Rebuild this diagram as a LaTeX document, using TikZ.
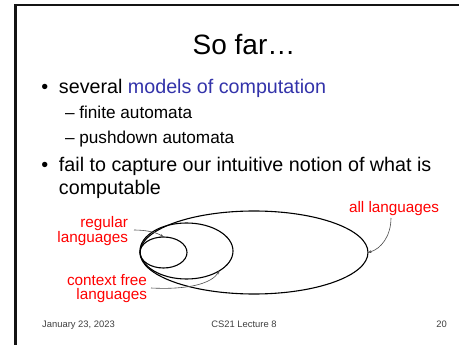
\documentclass[tikz,border=0pt]{standalone}
\usepackage{fontspec}
\setmainfont{Liberation Sans}
\usetikzlibrary{arrows.meta,shapes.geometric}
\definecolor{blu}{RGB}{51,51,170}
\definecolor{lab}{RGB}{255,0,0}
\definecolor{foot}{RGB}{64,64,64}
\definecolor{frm}{RGB}{20,20,20}
\tikzset{
  txt/.style={inner sep=0pt, outer sep=0pt, anchor=base west},
  ttl/.style={inner sep=0pt, anchor=base, font=\fontsize{28}{32}\selectfont},
  mainline/.style={txt, font=\fontsize{19.7}{23}\selectfont},
  subline/.style={txt, font=\fontsize{17.2}{21}\selectfont},
  lbl/.style={inner sep=0pt, outer sep=0pt, anchor=base east, text=lab, font=\fontsize{15.3}{15.3}\selectfont},
  lblw/.style={lbl, anchor=base west},
  footer/.style={inner sep=0pt, text=foot, font=\fontsize{9.4}{10}\selectfont},
  lang/.style={ellipse, draw, line width=1.1pt, inner sep=0pt, outer sep=0pt},
  pointer/.style={line width=0.6pt, draw=black!70, -{Stealth[length=3.5pt,width=2.8pt]}}
}
\begin{document}
\begin{tikzpicture}[x=1pt,y=-1pt]
\useasboundingbox (0,0) rectangle (459,345);
\fill[white] (0,0) rectangle (459,345);
\draw[line width=2.2pt, draw=frm, line join=miter] (15.5,345) -- (15.5,5.3) -- (459,5.3);

\node[ttl] (title) at (244,55) {So far…};

\node[mainline] (b1) at (41.5,94) {•};
\node[mainline] (l1) at (59,94) {several \textcolor{blu}{models of computation}};
\node[subline] (l2) at (65,119) {– finite automata};
\node[subline] (l3) at (65,144) {– pushdown automata};
\node[mainline] (b2) at (41.5,172) {•};
\node[mainline] (l4) at (59,172) {fail to capture our intuitive notion of what is};
\node[mainline] (l5) at (59,195) {computable};

\node[lang, minimum width=228pt, minimum height=83pt] (all) at (254,252.5) {};
\node[lang, minimum width=93pt, minimum height=56pt] (cfl) at (186.5,251) {};
\node[lang, minimum width=47pt, minimum height=31pt] (reg) at (163.5,252.5) {};

\node[lbl] (reg1) at (128,228) {regular};
\node[lbl] (reg2) at (128,243) {languages};
\node[lbl] (cf1) at (147,286) {context free};
\node[lbl] (cf2) at (147,300) {languages};
\node[lblw] (al) at (349,213) {all languages};

\draw[pointer] ([xshift=6pt,yshift=-2pt]reg1.base east) .. controls (145,230) and (156,232) .. (reg.north);
\draw[pointer] ([xshift=4pt,yshift=-2pt]cf1.base east) .. controls (190,290) and (212,283) .. (cfl.-31);
\draw[pointer] ([xshift=42pt,yshift=-5pt]al.base west) .. controls (391,236) and (381,249) .. (all.east);

\node[footer, anchor=base west] (date) at (42,327) {January 23, 2023};
\node[footer, anchor=base] (course) at (244,327) {CS21 Lecture 8};
\node[footer, anchor=base east] (page) at (447,327) {20};
\end{tikzpicture}
\end{document}
